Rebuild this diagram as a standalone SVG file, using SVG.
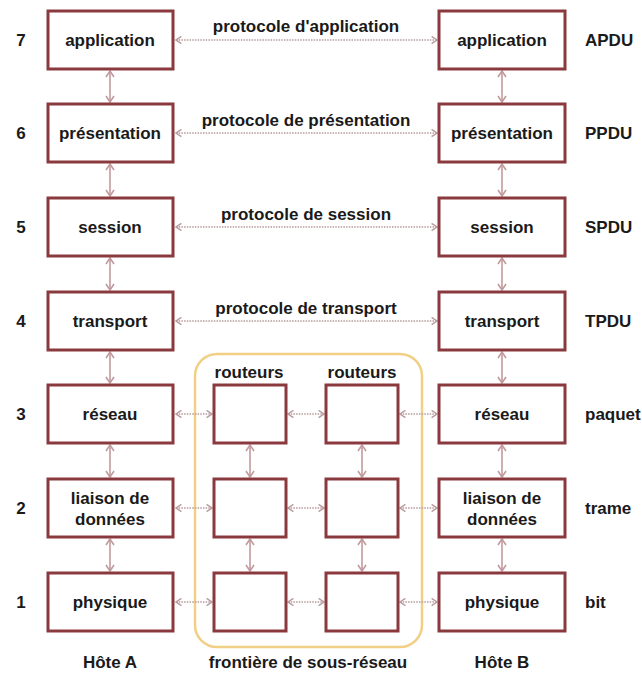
<svg xmlns="http://www.w3.org/2000/svg" width="642" height="675" viewBox="0 0 642 675">
  <style>
    text { font-family: "Liberation Sans", Arial, sans-serif; font-weight: bold; font-size: 17px; fill: #1a1a1a; text-anchor: middle; }
    .num { text-anchor: middle; }
    .pdu { text-anchor: start; }
    .box { fill: #ffffff; stroke: #8a3a3e; stroke-width: 3; }
    .boxin { fill: none; stroke: #d7a6a8; stroke-width: 1; }
    .h { stroke: #b99a9c; stroke-width: 1.5; stroke-dasharray: 1.5 1.2; fill: none; marker-start: url(#ah); marker-end: url(#ah); }
    .v { stroke: #c29a9c; stroke-width: 1.6; fill: none; marker-start: url(#av); marker-end: url(#av); }
    .zone { fill: none; stroke: #f1cf84; stroke-width: 2.5; }
  </style>
  <defs>
    <marker id="ah" viewBox="0 0 10 10" refX="9" refY="5" markerWidth="9" markerHeight="9" markerUnits="userSpaceOnUse" orient="auto-start-reverse">
      <path d="M3,1 L9,5 L3,9" fill="none" stroke="#b99a9c" stroke-width="1.6"/>
    </marker>
    <marker id="av" viewBox="0 0 10 10" refX="9" refY="5" markerWidth="10" markerHeight="10" markerUnits="userSpaceOnUse" orient="auto-start-reverse">
      <path d="M3,1 L9,5 L3,9" fill="none" stroke="#c29a9c" stroke-width="1.6"/>
    </marker>
  </defs>
  <rect width="642" height="675" fill="#ffffff"/>

  <!-- sub-network boundary -->
  <g id="subnet">
    <rect class="zone" x="195" y="354" width="227" height="293" rx="22"/>
    <text x="249" y="378">routeurs</text>
    <text x="362" y="378">routeurs</text>
    <text x="308" y="668">frontière de sous-réseau</text>
  </g>

  <!-- connectors -->
  <g id="connectors">
    <!-- peer protocols -->
    <line class="h" x1="176" y1="40" x2="437" y2="40"/>
    <line class="h" x1="176" y1="133" x2="437" y2="133"/>
    <line class="h" x1="176" y1="227" x2="437" y2="227"/>
    <line class="h" x1="176" y1="321" x2="437" y2="321"/>
    <!-- host A / routers / host B -->
    <line class="h" x1="176" y1="414" x2="212" y2="414"/>
    <line class="h" x1="288" y1="414" x2="324" y2="414"/>
    <line class="h" x1="400" y1="414" x2="437" y2="414"/>
    <line class="h" x1="176" y1="508" x2="212" y2="508"/>
    <line class="h" x1="288" y1="508" x2="324" y2="508"/>
    <line class="h" x1="400" y1="508" x2="437" y2="508"/>
    <line class="h" x1="176" y1="602" x2="212" y2="602"/>
    <line class="h" x1="288" y1="602" x2="324" y2="602"/>
    <line class="h" x1="400" y1="602" x2="437" y2="602"/>
    <!-- host A stack -->
    <line class="v" x1="110" y1="71" x2="110" y2="102"/>
    <line class="v" x1="110" y1="164" x2="110" y2="196"/>
    <line class="v" x1="110" y1="258" x2="110" y2="290"/>
    <line class="v" x1="110" y1="352" x2="110" y2="383"/>
    <line class="v" x1="110" y1="445" x2="110" y2="477"/>
    <line class="v" x1="110" y1="539" x2="110" y2="571"/>
    <!-- host B stack -->
    <line class="v" x1="502" y1="71" x2="502" y2="102"/>
    <line class="v" x1="502" y1="164" x2="502" y2="196"/>
    <line class="v" x1="502" y1="258" x2="502" y2="290"/>
    <line class="v" x1="502" y1="352" x2="502" y2="383"/>
    <line class="v" x1="502" y1="445" x2="502" y2="477"/>
    <line class="v" x1="502" y1="539" x2="502" y2="571"/>
    <!-- routers -->
    <line class="v" x1="250" y1="445" x2="250" y2="477"/>
    <line class="v" x1="250" y1="539" x2="250" y2="571"/>
    <line class="v" x1="362" y1="445" x2="362" y2="477"/>
    <line class="v" x1="362" y1="539" x2="362" y2="571"/>
  </g>

  <!-- protocol labels -->
  <g id="protocols">
    <text x="306" y="32">protocole d'application</text>
    <text x="306" y="126">protocole de présentation</text>
    <text x="306" y="220">protocole de session</text>
    <text x="306" y="314">protocole de transport</text>
  </g>

  <!-- layer numbers -->
  <g id="numbers">
    <text class="num" x="21" y="46">7</text>
    <text class="num" x="21" y="139">6</text>
    <text class="num" x="21" y="233">5</text>
    <text class="num" x="21" y="327">4</text>
    <text class="num" x="21" y="420">3</text>
    <text class="num" x="21" y="514">2</text>
    <text class="num" x="21" y="608">1</text>
  </g>

  <!-- host A -->
  <g id="a7"><rect class="box" x="48" y="11" width="125" height="58"/><text x="110" y="46">application</text></g>
  <g id="a6"><rect class="box" x="48" y="104" width="125" height="58"/><text x="110" y="139">présentation</text></g>
  <g id="a5"><rect class="box" x="48" y="198" width="125" height="58"/><text x="110" y="233">session</text></g>
  <g id="a4"><rect class="box" x="48" y="292" width="125" height="58"/><text x="110" y="327">transport</text></g>
  <g id="a3"><rect class="box" x="48" y="385" width="125" height="58"/><text x="110" y="420">réseau</text></g>
  <g id="a2"><rect class="box" x="48" y="479" width="125" height="58"/><text x="110" y="504">liaison de</text><text x="110" y="525">données</text></g>
  <g id="a1"><rect class="box" x="48" y="573" width="125" height="58"/><text x="110" y="608">physique</text></g>

  <!-- routers -->
  <g id="r1-3"><rect class="box" x="214" y="385" width="72" height="58"/></g>
  <g id="r1-2"><rect class="box" x="214" y="479" width="72" height="58"/></g>
  <g id="r1-1"><rect class="box" x="214" y="573" width="72" height="58"/></g>
  <g id="r2-3"><rect class="box" x="326" y="385" width="72" height="58"/></g>
  <g id="r2-2"><rect class="box" x="326" y="479" width="72" height="58"/></g>
  <g id="r2-1"><rect class="box" x="326" y="573" width="72" height="58"/></g>

  <!-- host B -->
  <g id="b7"><rect class="box" x="439" y="11" width="126" height="58"/><text x="502" y="46">application</text></g>
  <g id="b6"><rect class="box" x="439" y="104" width="126" height="58"/><text x="502" y="139">présentation</text></g>
  <g id="b5"><rect class="box" x="439" y="198" width="126" height="58"/><text x="502" y="233">session</text></g>
  <g id="b4"><rect class="box" x="439" y="292" width="126" height="58"/><text x="502" y="327">transport</text></g>
  <g id="b3"><rect class="box" x="439" y="385" width="126" height="58"/><text x="502" y="420">réseau</text></g>
  <g id="b2"><rect class="box" x="439" y="479" width="126" height="58"/><text x="502" y="504">liaison de</text><text x="502" y="525">données</text></g>
  <g id="b1"><rect class="box" x="439" y="573" width="126" height="58"/><text x="502" y="608">physique</text></g>

  <!-- data units -->
  <g id="pdus">
    <text class="pdu" x="585" y="46">APDU</text>
    <text class="pdu" x="585" y="139">PPDU</text>
    <text class="pdu" x="585" y="233">SPDU</text>
    <text class="pdu" x="585" y="327">TPDU</text>
    <text class="pdu" x="585" y="420">paquet</text>
    <text class="pdu" x="585" y="514">trame</text>
    <text class="pdu" x="585" y="608">bit</text>
  </g>

  <!-- host names -->
  <g id="hosts">
    <text x="110" y="668">Hôte A</text>
    <text x="502" y="668">Hôte B</text>
  </g>
</svg>
